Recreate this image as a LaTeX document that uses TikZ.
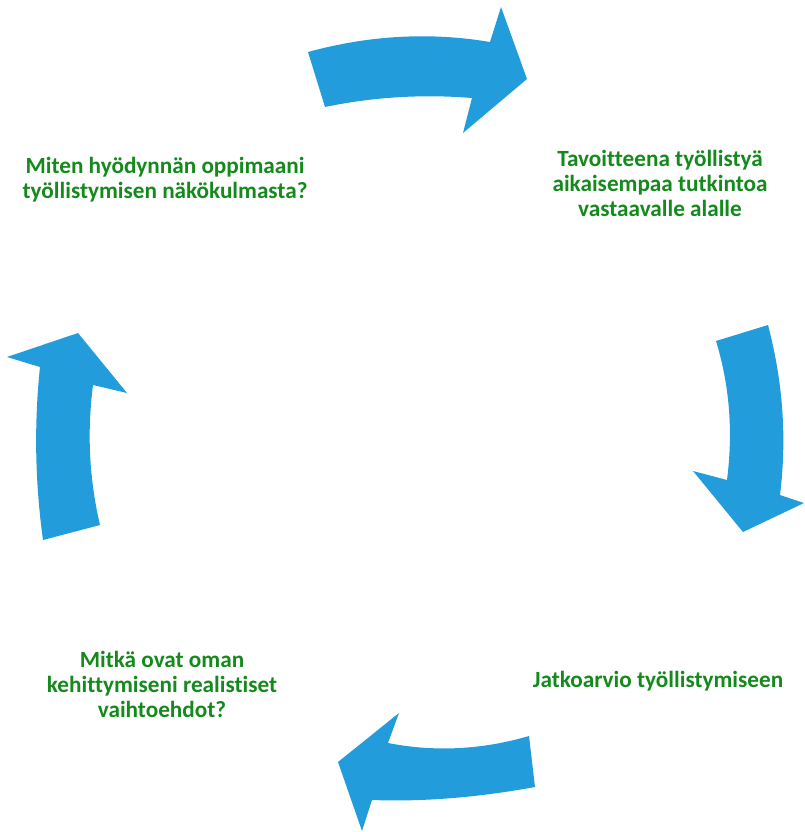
\documentclass[tikz,border=0pt]{standalone}
\usepackage{fontspec}
\setmainfont[Ligatures=CommonOff]{Carlito}
\definecolor{cycleblue}{RGB}{34,156,219}
\definecolor{cyclegreen}{RGB}{20,138,28}
\begin{document}
\begin{tikzpicture}[x=1pt,y=-1pt,
  arrowshape/.style={fill=cycleblue,draw=none},
  cyclelabel/.style={text=cyclegreen,font=\bfseries\fontsize{23.2}{25}\selectfont,align=center,inner sep=0pt}]
\useasboundingbox (0,0) rectangle (805,832);

% top arrow, pointing right
\fill[arrowshape] (308,52) .. controls (370,35) and (431,32) .. (490,42)
  -- (501,7) -- (527,79) -- (463,133) -- (472,98)
  .. controls (422,94) and (373,97) .. (325,107) -- cycle;

% right arrow, pointing down
\fill[arrowshape] (768,325) .. controls (783,382) and (787,438) .. (780,495)
  -- (804,503) -- (743,532) -- (693,471) -- (727,480)
  .. controls (733,433) and (730,387) .. (716,341) -- cycle;

% bottom arrow, pointing left
\fill[arrowshape] (529,736) .. controls (481,750) and (434,752) .. (388,743)
  -- (399,713) -- (338,762) -- (362,831) -- (372,800)
  .. controls (426,802) and (480,797) .. (535,787) -- cycle;

% left arrow, pointing up
\fill[arrowshape] (100,525) .. controls (89,478) and (87,432) .. (93,385)
  -- (127,393) -- (78,333) -- (7,357) -- (40,367)
  .. controls (34,424) and (35,482) .. (43,540) -- cycle;

\node[cyclelabel] (goal) at (660,183) {Tavoitteena työllistyä\\aikaisempaa tutkintoa\\vastaavalle alalle};
\node[cyclelabel] (review) at (658,681) {Jatkoarvio työllistymiseen};
\node[cyclelabel] (options) at (162,684) {Mitkä ovat oman\\kehittymiseni realistiset\\vaihtoehdot?};
\node[cyclelabel] (use) at (165,180) {Miten hyödynnän oppimaani\\työllistymisen näkökulmasta?};
\end{tikzpicture}
\end{document}
